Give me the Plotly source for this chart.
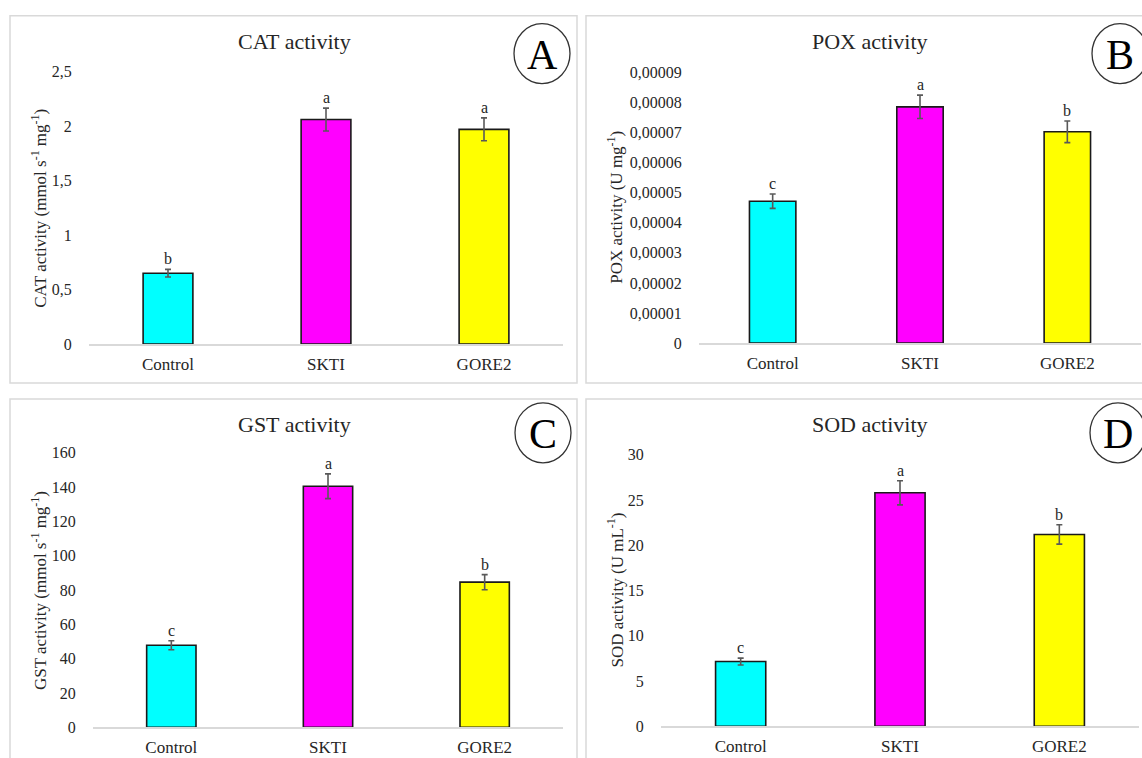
import plotly.graph_objects as go

# ---- data -------------------------------------------------------------
categories = ["Control", "SKTI", "GORE2"]
bar_colors = ["#00FFFF", "#FF00FF", "#FFFF00"]

cat_mean = [0.65, 2.06, 1.97]
cat_err = [0.035, 0.105, 0.105]
cat_letters = ["b", "a", "a"]

pox_mean = [4.72e-5, 7.86e-5, 7.03e-5]
pox_err = [0.24e-5, 0.39e-5, 0.36e-5]
pox_letters = ["c", "a", "b"]

gst_mean = [47.8, 140.5, 84.6]
gst_err = [2.6, 7.2, 4.4]
gst_letters = ["c", "a", "b"]

sod_mean = [7.15, 25.8, 21.2]
sod_err = [0.38, 1.33, 1.07]
sod_letters = ["c", "a", "b"]

cat_ticks = [0, 0.5, 1, 1.5, 2, 2.5]
cat_ticktext = ["0", "0,5", "1", "1,5", "2", "2,5"]
pox_ticks = [0, 1e-5, 2e-5, 3e-5, 4e-5, 5e-5, 6e-5, 7e-5, 8e-5, 9e-5]
pox_ticktext = ["0", "0,00001", "0,00002", "0,00003", "0,00004",
                "0,00005", "0,00006", "0,00007", "0,00008", "0,00009"]
gst_ticks = [0, 20, 40, 60, 80, 100, 120, 140, 160]
gst_ticktext = [str(v) for v in gst_ticks]
sod_ticks = [0, 5, 10, 15, 20, 25, 30]
sod_ticktext = [str(v) for v in sod_ticks]

# ---- page geometry ----------------------------------------------------
W, H = 1142, 758
FONT = "Liberation Serif"
TXT = "#262626"

# vertical placement: page rows are mapped onto the paper with a small
# top offset and a slightly reduced usable height
Y_OFF, Y_SPAN = 7.3, 742.5


def px(x):
    return x / W


def py(y):
    return 1 - (y - Y_OFF) / Y_SPAN


panels = [
    dict(title="CAT activity", mean=cat_mean, err=cat_err, letters=cat_letters,
         ticks=cat_ticks, ticktext=cat_ticktext, rng=[0, 2.5],
         ytitle="CAT activity (mmol s<sup>-1</sup> mg<sup>-1</sup>)",
         box=(89, 563, 71, 344), frame=(10, 15, 577, 383), title_x=294,
         ytx=39, badge=(542, 53), tag="A"),
    dict(title="POX activity", mean=pox_mean, err=pox_err, letters=pox_letters,
         ticks=pox_ticks, ticktext=pox_ticktext, rng=[0, 9e-5],
         ytitle="POX activity (U mg<sup>-1</sup>)",
         box=(699, 1141, 72, 343), frame=(586, 15, 1170, 383), title_x=870,
         ytx=615, badge=(1120, 53), tag="B"),
    dict(title="GST activity", mean=gst_mean, err=gst_err, letters=gst_letters,
         ticks=gst_ticks, ticktext=gst_ticktext, rng=[0, 160],
         ytitle="GST activity (mmol s<sup>-1</sup> mg<sup>-1</sup>)",
         box=(93, 563, 453, 728), frame=(10, 399, 577, 790), title_x=294,
         ytx=39, badge=(543, 433), tag="C"),
    dict(title="SOD activity", mean=sod_mean, err=sod_err, letters=sod_letters,
         ticks=sod_ticks, ticktext=sod_ticktext, rng=[0, 30],
         ytitle="SOD activity (U mL<sup>-1</sup>)",
         box=(661, 1139, 455, 727), frame=(586, 399, 1170, 790), title_x=870,
         ytx=615, badge=(1118, 433), tag="D"),
]

fig = go.Figure()
annotations = []
shapes = []
layout_axes = {}

for i, p in enumerate(panels, start=1):
    xa = "x" if i == 1 else f"x{i}"
    ya = "y" if i == 1 else f"y{i}"
    x0, x1, yt, yb = p["box"]

    fig.add_trace(go.Bar(
        x=categories, y=p["mean"], xaxis=xa, yaxis=ya,
        marker=dict(color=bar_colors, line=dict(color="#1a1a1a", width=1.6)),
        width=0.315,
        error_y=dict(type="data", array=p["err"], visible=True,
                     color="#595959", thickness=1.6, width=3),
        showlegend=False, hoverinfo="skip",
    ))

    xkey = "xaxis" if i == 1 else f"xaxis{i}"
    ykey = "yaxis" if i == 1 else f"yaxis{i}"
    layout_axes[xkey] = dict(
        domain=[px(x0), px(x1)], anchor=ya,
        showline=True, linecolor="#d9d9d9", linewidth=1.5,
        ticks="outside", ticklen=4, tickcolor="rgba(0,0,0,0)",
        tickfont=dict(family=FONT, size=17, color=TXT),
        showgrid=False, zeroline=False, fixedrange=True,
    )
    layout_axes[ykey] = dict(
        domain=[py(yb), py(yt)], anchor=xa, range=p["rng"],
        tickvals=p["ticks"], ticktext=p["ticktext"],
        ticks="outside", ticklen=13, tickcolor="rgba(0,0,0,0)",
        tickfont=dict(family=FONT, size=16, color=TXT),
        showline=False, showgrid=False, zeroline=False, fixedrange=True,
    )

    # significance letters above each error bar
    for c, m, e, l in zip(categories, p["mean"], p["err"], p["letters"]):
        annotations.append(dict(
            x=c, y=m + e, xref=xa, yref=ya, text=l, showarrow=False,
            yanchor="bottom", yshift=0,
            font=dict(family=FONT, size=16, color=TXT),
        ))

    fx0, fy0, fx1, fy1 = p["frame"]
    # panel frame
    shapes.append(dict(type="rect", xref="paper", yref="paper",
                       x0=px(fx0), x1=px(fx1), y0=py(fy1), y1=py(fy0),
                       line=dict(color="#d9d9d9", width=1.5), layer="below"))
    # panel title
    annotations.append(dict(
        x=px(p["title_x"]), y=py(fy0 + 26),
        xref="paper", yref="paper", text=p["title"], showarrow=False,
        xanchor="center", yanchor="middle",
        font=dict(family=FONT, size=22, color=TXT),
    ))
    # rotated y-axis title
    annotations.append(dict(
        x=px(p["ytx"]), y=py((yt + yb) / 2), xref="paper", yref="paper",
        text=p["ytitle"], textangle=-90, showarrow=False,
        xanchor="center", yanchor="middle",
        font=dict(family=FONT, size=17, color=TXT),
    ))
    # circled panel badge
    bx, by = p["badge"]
    shapes.append(dict(type="circle", xref="paper", yref="paper",
                       x0=px(bx - 28), x1=px(bx + 28),
                       y0=py(by + 30), y1=py(by - 30),
                       line=dict(color="#333333", width=1.3)))
    annotations.append(dict(
        x=px(bx), y=py(by + 1), xref="paper", yref="paper", text=p["tag"],
        showarrow=False, xanchor="center", yanchor="middle",
        font=dict(family=FONT, size=42, color="#000000"),
    ))

fig.update_layout(
    width=W, height=H,
    margin=dict(l=0, r=0, t=0, b=0),
    paper_bgcolor="white", plot_bgcolor="white",
    font=dict(family=FONT, color=TXT),
    annotations=annotations, shapes=shapes,
    bargap=0.3,
    **layout_axes,
)

fig.write_html("out.html", config={"displayModeBar": False})
